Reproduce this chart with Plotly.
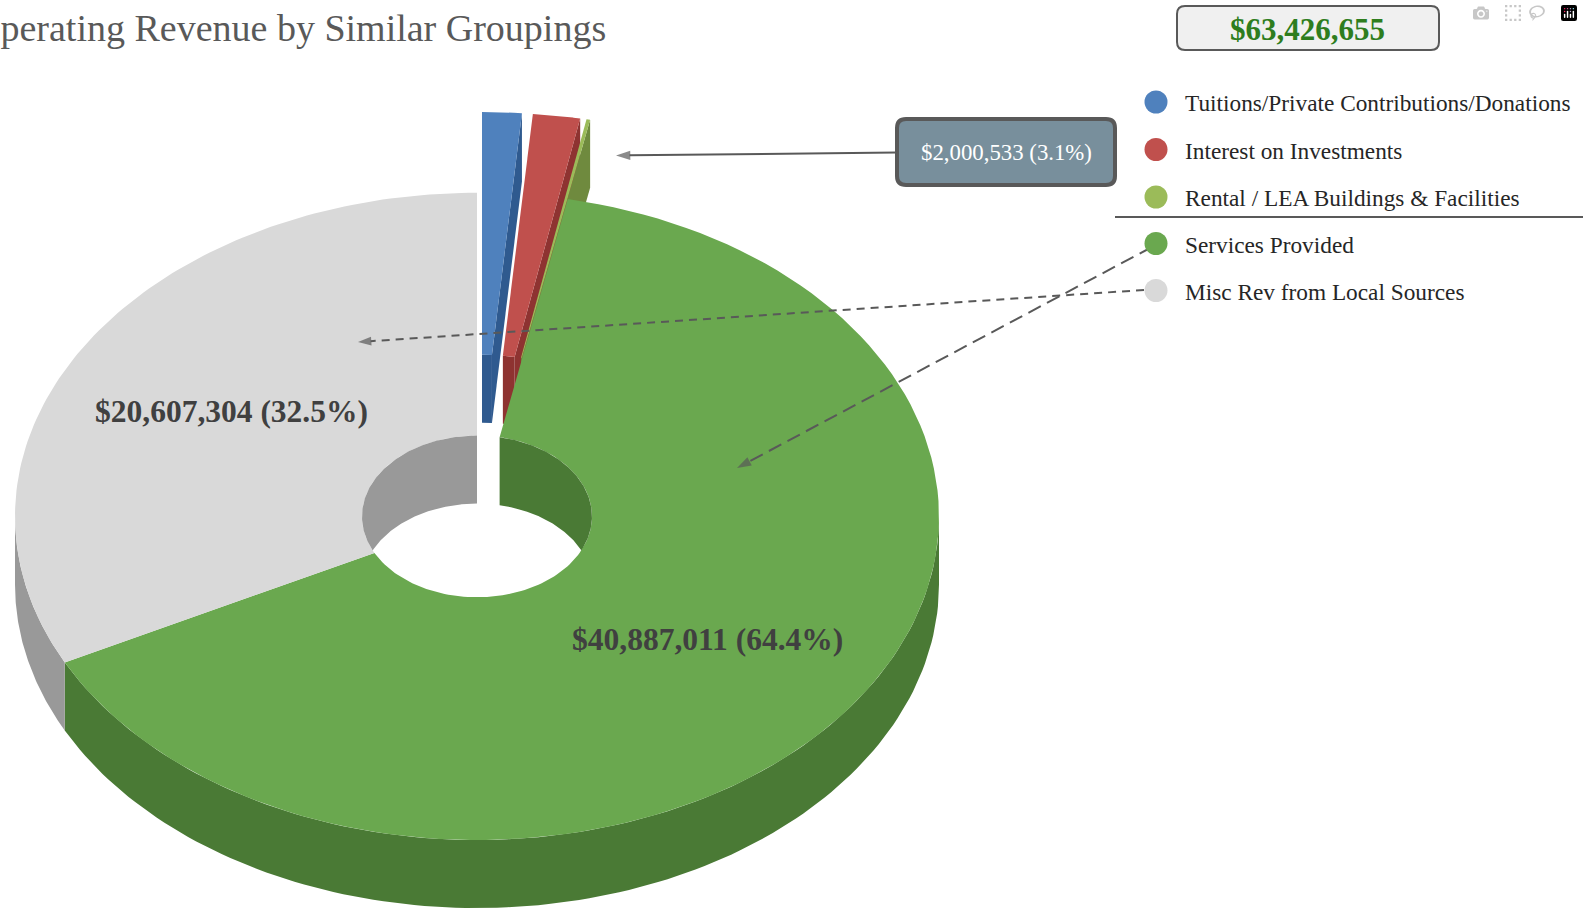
"""Operating revenue groupings drawn as an exploded 3D doughnut, built from scatter fills."""

import numpy as np
import plotly.graph_objects as go

WIDTH, HEIGHT = 1583, 909
SERIF = "Liberation Serif"

CATEGORIES = [
    "Tuitions/Private Contributions/Donations",
    "Interest on Investments",
    "Rental / LEA Buildings & Facilities",
    "Services Provided",
    "Misc Rev from Local Sources",
]
VALUES = [875000, 1045000, 80533, 40887011, 20607304]  # first three
TOP_COLORS = ["#4f81bd", "#c0504d", "#9bbb59", "#6aa84f", "#d9d9d9"]
WALL_COLORS = ["#2f5a8f", "#8e3331", "#6f8a3e", "#4a7a35", "#999999"]
EXPLODED = [True, True, True, False, False]

TOTAL_LABEL = "$63,426,655"
CALLOUT_LABEL = "$2,000,533 (3.1%)"
SERVICES_LABEL = "$40,887,011 (64.4%)"
MISC_LABEL = "$20,607,304 (32.5%)"
TITLE = "Operating Revenue by Similar Groupings"

# doughnut geometry, in page pixels
CX, CY = 477.0, 516.4
OUTER_A, OUTER_B = 462.0, 323.6
HOLE_A, HOLE_B = 115.0, 80.8
DEPTH = 68.0
EXPLODE = 0.25


def _pt(theta, a, b, dx=0.0, dy=0.0):
    """Ellipse point for theta in degrees, clockwise from 12 o'clock."""
    rad = np.radians(theta)
    return CX + dx + a * np.sin(rad), CY + dy - b * np.cos(rad)


def _arc(t0, t1, a, b, dx=0.0, dy=0.0):
    return _pt(np.linspace(t0, t1, 120), a, b, dx, dy)


def _poly(fig, parts, color):
    """Add a filled polygon joined from (x, y) pieces."""
    fig.add_trace(
        go.Scatter(
            x=np.concatenate([p[0] for p in parts]),
            y=np.concatenate([p[1] for p in parts]),
            mode="lines", fill="toself", fillcolor=color,
            line=dict(width=0, color=color), hoverinfo="skip", showlegend=False,
        )
    )


def _hole_wall(fig, t0, t1, color, dx=0.0, dy=0.0):
    """Back wall of the hole, cut off where the lower rim crosses the upper rim."""
    limit = np.degrees(np.arccos(DEPTH / (2 * HOLE_B)))
    if t1 <= 180:
        top = _arc(t0, min(t1, 180 - limit), HOLE_A, HOLE_B, dx, dy)
        low = _arc(min(t1, limit), t0, HOLE_A, HOLE_B, dx, dy + DEPTH)
    else:
        top = _arc(max(t0, 180 + limit), t1, HOLE_A, HOLE_B, dx, dy)
        low = _arc(t1, max(t0, 360 - limit), HOLE_A, HOLE_B, dx, dy + DEPTH)
    _poly(fig, [top, low], color)


def _draw_exploded(fig, t0, t1, top, wall):
    """One slice pulled out along its bisector: inner wall, side face, top."""
    mid = np.radians((t0 + t1) / 2)
    dx, dy = EXPLODE * OUTER_A * np.sin(mid), -EXPLODE * OUTER_B * np.cos(mid)
    _hole_wall(fig, t0, t1, wall, dx, dy)
    side = [
        _pt(np.array([t1]), OUTER_A, OUTER_B, dx, dy),
        _pt(np.array([t1]), OUTER_A, OUTER_B, dx, dy + DEPTH),
        _pt(np.array([t1]), HOLE_A, HOLE_B, dx, dy + DEPTH),
        _pt(np.array([t1]), HOLE_A, HOLE_B, dx, dy),
    ]
    _poly(fig, side, wall)
    _poly(fig, [_arc(t0, t1, OUTER_A, OUTER_B, dx, dy), _arc(t1, t0, HOLE_A, HOLE_B, dx, dy)], top)


def _draw_flat(fig, t0, t1, top, wall):
    """One slice left in place: outer wall, top, visible part of the hole wall."""
    lo, hi = max(t0, 90), min(t1, 270)
    if lo < hi:
        _poly(fig, [_arc(lo, hi, OUTER_A, OUTER_B), _arc(hi, lo, OUTER_A, OUTER_B, 0, DEPTH)], wall)
    _poly(fig, [_arc(t0, t1, OUTER_A, OUTER_B), _arc(t1, t0, HOLE_A, HOLE_B)], top)
    if t1 > 270:
        _hole_wall(fig, t0, t1, wall)
    else:
        _hole_wall(fig, t0, 180, wall)


def _round_box(x0, y0, x1, y1, r):
    return (
        f"M {x0 + r} {y0} L {x1 - r} {y0} Q {x1} {y0} {x1} {y0 + r} L {x1} {y1 - r} "
        f"Q {x1} {y1} {x1 - r} {y1} L {x0 + r} {y1} Q {x0} {y1} {x0} {y1 - r} "
        f"L {x0} {y0 + r} Q {x0} {y0} {x0 + r} {y0} Z"
    )


def _pointer(fig, x, y, dash, width=2, head=13):
    """Leader line with an arrow head on its last point."""
    fig.add_trace(
        go.Scatter(
            x=x, y=y, mode="lines+markers",
            line=dict(color="#595959", width=width, dash=dash),
            marker=dict(symbol=["circle", "arrow"], size=[0, head], color="#595959",
                        angleref="previous", line=dict(width=0)),
            hoverinfo="skip", showlegend=False,
        )
    )


fig = go.Figure()

edges = np.concatenate([[0], np.cumsum(VALUES)]) / sum(VALUES) * 360
for i in range(len(VALUES)):
    if EXPLODED[i]:
        _draw_exploded(fig, edges[i], edges[i + 1], TOP_COLORS[i], WALL_COLORS[i])
for i in range(len(VALUES)):
    if not EXPLODED[i]:
        _draw_flat(fig, edges[i], edges[i + 1], TOP_COLORS[i], WALL_COLORS[i])

_pointer(fig, [897, 616], [152.5, 155.5], "solid", 2, 15)
_pointer(fig, [1152, 737], [247, 468], "14px,7px", 2, 15)
_pointer(fig, [1144, 358], [290, 342], "8px,6px", 2, 14)

# legend column
legend_y = [102, 149.5, 197, 243.5, 290.5]
fig.add_trace(
    go.Scatter(
        x=[1156] * 5, y=legend_y, mode="markers",
        marker=dict(size=23, color=TOP_COLORS, line=dict(width=0)),
        hoverinfo="skip", showlegend=False,
    )
)


def _text(text, x, y, size, color, anchor="center", bold=False):
    fig.add_annotation(
        x=x, y=y, xref="x", yref="y", text=f"<b>{text}</b>" if bold else text,
        showarrow=False, xanchor=anchor, yanchor="middle",
        font=dict(family=SERIF, size=size, color=color),
    )


for name, y in zip(CATEGORIES, legend_y):
    _text(name, 1183, y + 1, 23.3, "#262626", anchor="left")

_text(TITLE, 608, 28, 38, "#595959", anchor="right")
_text(TOTAL_LABEL, 1307, 29, 31, "#2e7d1e", bold=True)
_text(CALLOUT_LABEL, 1006, 152, 22.8, "#ffffff")
_text(MISC_LABEL, 231, 411, 31.5, "#404040", bold=True)
_text(SERVICES_LABEL, 707, 639, 31.5, "#404040", bold=True)

fig.add_shape(type="path", path=_round_box(1177, 6, 1439, 50, 8),
              fillcolor="#f0f0f0", line=dict(color="#595959", width=2), layer="below")
fig.add_shape(type="path", path=_round_box(897, 119, 1115, 185, 9),
              fillcolor="#788f9c", line=dict(color="#595959", width=4))
fig.add_shape(type="line", x0=1115, x1=1583, y0=217, y1=217, line=dict(color="#595959", width=2))

fig.update_xaxes(range=[0, WIDTH], visible=False, fixedrange=True)
fig.update_yaxes(range=[HEIGHT, 0], visible=False, fixedrange=True)
fig.update_layout(
    width=WIDTH, height=HEIGHT, margin=dict(l=0, r=0, t=0, b=0),
    paper_bgcolor="white", plot_bgcolor="white", showlegend=False,
)

# the browser's default body margin would push the page 8px off the reference
fig.write_html("out.html", post_script="document.body.style.margin = '0';")
